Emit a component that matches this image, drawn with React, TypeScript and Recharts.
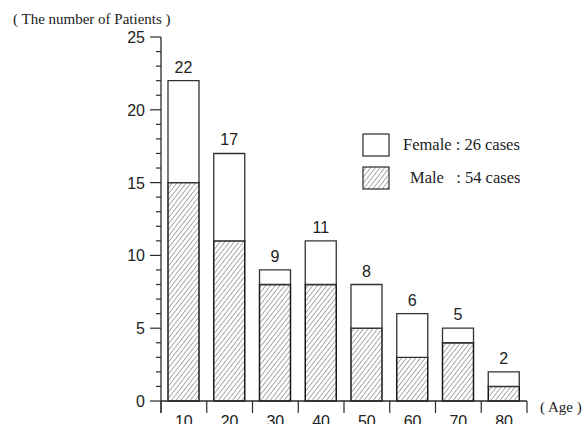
import { BarChart, Bar, XAxis, YAxis, LabelList } from 'recharts';

const ages = ['10', '20', '30', '40', '50', '60', '70', '80'];
const male = [15, 11, 8, 8, 5, 3, 4, 1];
const female = [7, 6, 1, 3, 3, 3, 1, 1];
const yTicks = [0, 1, 2, 3, 4, 5, 6, 7, 8, 9, 10, 11, 12, 13, 14, 15, 16, 17, 18, 19, 20, 21, 22, 23, 24, 25];
const legendItems = [
  { key: 'female', label: 'Female : 26 cases', pad: 0 },
  { key: 'male', label: 'Male\u00a0\u00a0\u00a0: 54 cases', pad: 7 },
];

const data = ages.map((age, i) => ({
  age,
  male: male[i],
  female: female[i],
  total: male[i] + female[i],
}));

const W = 583;
const H = 424;
const M = { top: 37, right: 56, bottom: 0, left: 0 };
const YW = 161;
const XH = 23;
const band = (W - M.right - YW) / ages.length;
const ink = '#2a2a2a';
const sans = '"Liberation Sans", Arial, sans-serif';
const serif = '"Liberation Serif", "Times New Roman", serif';

function YTick(props: any) {
  const { x, y, payload } = props;
  const major = payload.value % 5 === 0;
  return (
    <g>
      <line x1={x - (major ? 11 : 5)} x2={x} y1={y} y2={y} stroke={ink} strokeWidth={1.2} />
      {payload.value === 0 && <line x1={x} x2={x} y1={y} y2={y + 12} stroke={ink} strokeWidth={1.2} />}
      {major && (
        <text x={x - 16} y={y + 6} textAnchor="end" fontFamily={sans} fontSize={16} fill="#222">
          {payload.value}
        </text>
      )}
    </g>
  );
}

// category labels sit low, partly below the edge, as in the source figure
function XTick(props: any) {
  const { x, y, payload, index } = props;
  const last = index === ages.length - 1;
  return (
    <g>
      <line x1={x - band / 2} x2={x - band / 2} y1={y} y2={y + 12} stroke={ink} strokeWidth={1.2} />
      {last && <line x1={x + band / 2} x2={x + band / 2} y1={y} y2={y + 12} stroke={ink} strokeWidth={1.2} />}
      <text x={x} y={y + 26} textAnchor="middle" fontFamily={sans} fontSize={16} fill="#222">
        {payload.value}
      </text>
    </g>
  );
}

function HatchBox({ hatched }: { hatched: boolean }) {
  return (
    <svg width={28} height={24} style={{ display: 'block' }}>
      <defs>
        <pattern id="hatchLegend" patternUnits="userSpaceOnUse" width={3.7} height={3.7} patternTransform="rotate(38)">
          <line x1={0} y1={0} x2={0} y2={3.7} stroke="#444" strokeWidth={0.9} />
        </pattern>
      </defs>
      <rect x={1} y={1} width={26} height={22} fill={hatched ? 'url(#hatchLegend)' : '#fff'} stroke={ink} strokeWidth={1.2} />
    </svg>
  );
}

export default function App() {
  return (
    <div style={{ position: 'absolute', left: 0, top: 0, width: W, height: H, background: '#fff' }}>
      <BarChart width={W} height={H} data={data} margin={M} barSize={31}>
        <defs>
          <pattern id="hatch" patternUnits="userSpaceOnUse" width={3.7} height={3.7} patternTransform="rotate(38)">
            <line x1={0} y1={0} x2={0} y2={3.7} stroke="#444" strokeWidth={0.9} />
          </pattern>
        </defs>
        <XAxis
          dataKey="age"
          height={XH}
          tickSize={0}
          tickMargin={0}
          tickLine={false}
          axisLine={{ stroke: ink, strokeWidth: 1.3 }}
          tick={<XTick />}
          interval={0}
        />
        <YAxis
          width={YW}
          domain={[0, 25]}
          ticks={yTicks}
          interval={0}
          tickSize={0}
          tickMargin={0}
          tickLine={false}
          axisLine={{ stroke: ink, strokeWidth: 1.3 }}
          tick={<YTick />}
        />
        <Bar dataKey="male" stackId="a" fill="url(#hatch)" stroke="#1a1a1a" strokeWidth={1.5} isAnimationActive={false} />
        <Bar dataKey="female" stackId="a" fill="#fff" stroke="#333" strokeWidth={1.3} isAnimationActive={false}>
          <LabelList dataKey="total" position="top" offset={8} fontFamily={sans} fontSize={16} fill="#222" />
        </Bar>
      </BarChart>
      <div style={{ position: 'absolute', left: 13, top: 11, fontFamily: serif, fontSize: 15, color: '#222', whiteSpace: 'nowrap' }}>
        ( The number of Patients )
      </div>
      <div style={{ position: 'absolute', left: 540, top: 399, fontFamily: serif, fontSize: 15, color: '#222', whiteSpace: 'nowrap' }}>
        ( Age )
      </div>
      <div style={{ position: 'absolute', left: 362, top: 128 }}>
        {legendItems.map((it) => (
          <div key={it.key} style={{ display: 'flex', alignItems: 'center', height: 33 }}>
            <HatchBox hatched={it.key === 'male'} />
            <span style={{ marginLeft: 13 + it.pad, fontFamily: serif, fontSize: 16.5, color: '#222', whiteSpace: 'pre' }}>
              {it.label}
            </span>
          </div>
        ))}
      </div>
    </div>
  );
}
